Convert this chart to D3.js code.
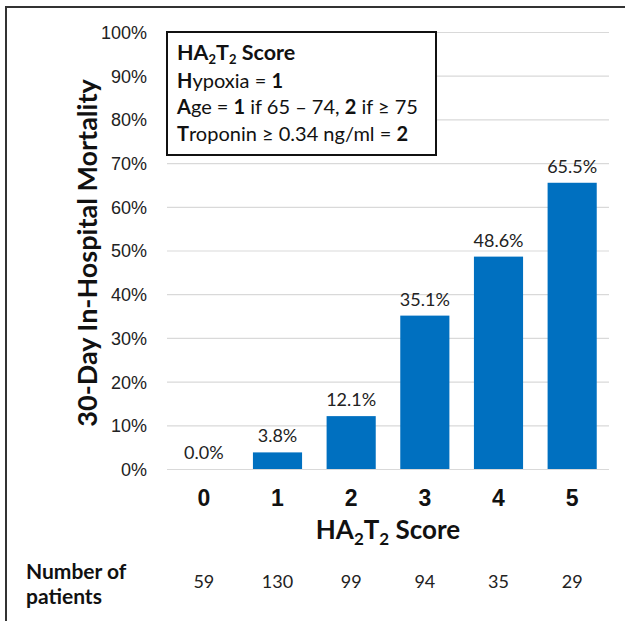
<!DOCTYPE html>
<html>
<head>
<meta charset="utf-8">
<script src="https://cdn.jsdelivr.net/npm/d3@7"></script>
<style>
  html, body { margin: 0; padding: 0; background: #fff; }
  svg { display: block; font-family: Lato, "Noto Sans", sans-serif; }
</style>
</head>
<body>
<svg id="chart" width="625" height="621"></svg>
<script>
// Mortality by HA2T2 score
const scores = ["0", "1", "2", "3", "4", "5"];
const mortality = [0.0, 3.8, 12.1, 35.1, 48.6, 65.5];
const patients = [59, 130, 99, 94, 35, 29];
const yTicks = [0, 10, 20, 30, 40, 50, 60, 70, 80, 90, 100];

const svg = d3.select("#chart");

// outer frame (only top and left edges fall inside the canvas)
svg.append("rect")
  .attr("x", 6).attr("y", 7)
  .attr("width", 640).attr("height", 640)
  .attr("fill", "none").attr("stroke", "#333").attr("stroke-width", 2);

const x = d3.scaleBand().domain(scores).range([167, 609]).paddingInner(0.333).paddingOuter(0.1665);
const y = d3.scaleLinear().domain([0, 100]).range([469, 32]);
const cx = s => x(s) + x.bandwidth() / 2;

// gridlines + y labels
const yAxis = d3.axisLeft(y).tickValues(yTicks).tickFormat(d => d + "%").tickSize(-(609 - 167)).tickPadding(20);
const gy = svg.append("g").attr("transform", "translate(167,0)").call(yAxis);
gy.select(".domain").remove();
gy.selectAll(".tick line").attr("stroke", "#d9d9d9").attr("stroke-width", 1.2);
gy.selectAll(".tick text").attr("fill", "#222").attr("font-size", 18).attr("dy", "0.36em");

// bars
svg.append("g").selectAll("rect").data(mortality).join("rect")
  .attr("x", (d, i) => x(scores[i]))
  .attr("width", x.bandwidth())
  .attr("y", d => y(d))
  .attr("height", d => y(0) - y(d))
  .attr("fill", "#0070C0");

// value labels
svg.append("g").selectAll("text").data(mortality).join("text")
  .attr("x", (d, i) => cx(scores[i]))
  .attr("y", d => y(d) - 10)
  .attr("text-anchor", "middle")
  .attr("font-size", 18).attr("fill", "#222")
  .text(d => d.toFixed(1) + "%");

// x categories
const xAxis = d3.axisBottom(x).tickSize(0).tickPadding(0);
const gx = svg.append("g").attr("transform", "translate(0,506)").call(xAxis);
gx.select(".domain").remove();
gx.selectAll(".tick text").attr("dy", 0).attr("font-size", 23).attr("font-weight", "bold").attr("fill", "#111");

// x axis title
const xt = svg.append("text").attr("x", 388).attr("y", 539)
  .attr("text-anchor", "middle").attr("font-size", 26).attr("font-weight", "bold").attr("fill", "#111");
xt.append("tspan").text("HA");
xt.append("tspan").attr("font-size", 17).attr("dy", 6).text("2");
xt.append("tspan").attr("dy", -6).text("T");
xt.append("tspan").attr("font-size", 17).attr("dy", 6).text("2");
xt.append("tspan").attr("dy", -6).text(" Score");

// y axis title
svg.append("text")
  .attr("transform", "translate(97,253) rotate(-90)")
  .attr("text-anchor", "middle").attr("font-size", 27).attr("font-weight", "bold").attr("fill", "#111")
  .text("30-Day In-Hospital Mortality");

// patient counts row
svg.append("text").attr("x", 26).attr("y", 579).attr("font-size", 21).attr("font-weight", "bold").attr("fill", "#111").text("Number of");
svg.append("text").attr("x", 26).attr("y", 604).attr("font-size", 21).attr("font-weight", "bold").attr("fill", "#111").text("patients");
svg.append("g").selectAll("text").data(patients).join("text")
  .attr("x", (d, i) => cx(scores[i]))
  .attr("y", 588)
  .attr("text-anchor", "middle").attr("font-size", 18).attr("fill", "#222")
  .text(d => d);

// score definition box
const box = svg.append("g");
box.append("rect").attr("x", 167).attr("y", 32).attr("width", 269).attr("height", 123)
  .attr("fill", "#fff").attr("stroke", "#111").attr("stroke-width", 2);
const t0 = box.append("text").attr("x", 177).attr("y", 60).attr("font-size", 21.5).attr("font-weight", "bold").attr("fill", "#111");
t0.append("tspan").text("HA");
t0.append("tspan").attr("font-size", 13).attr("dy", 4).text("2");
t0.append("tspan").attr("dy", -4).text("T");
t0.append("tspan").attr("font-size", 13).attr("dy", 4).text("2");
t0.append("tspan").attr("dy", -4).text(" Score");

const lines = [
  [["H", true], ["ypoxia = ", false], ["1", true]],
  [["A", true], ["ge = ", false], ["1", true], [" if 65 \u2013 74, ", false], ["2", true], [" if \u2265 75", false]],
  [["T", true], ["roponin \u2265 0.34 ng/ml = ", false], ["2", true]]
];
lines.forEach((parts, i) => {
  const t = box.append("text").attr("x", 177).attr("y", 88 + i * 26.3).attr("font-size", 20).attr("fill", "#111");
  parts.forEach(([s, b]) => t.append("tspan").attr("font-weight", b ? "bold" : "normal").text(s));
});
</script>
</body>
</html>
